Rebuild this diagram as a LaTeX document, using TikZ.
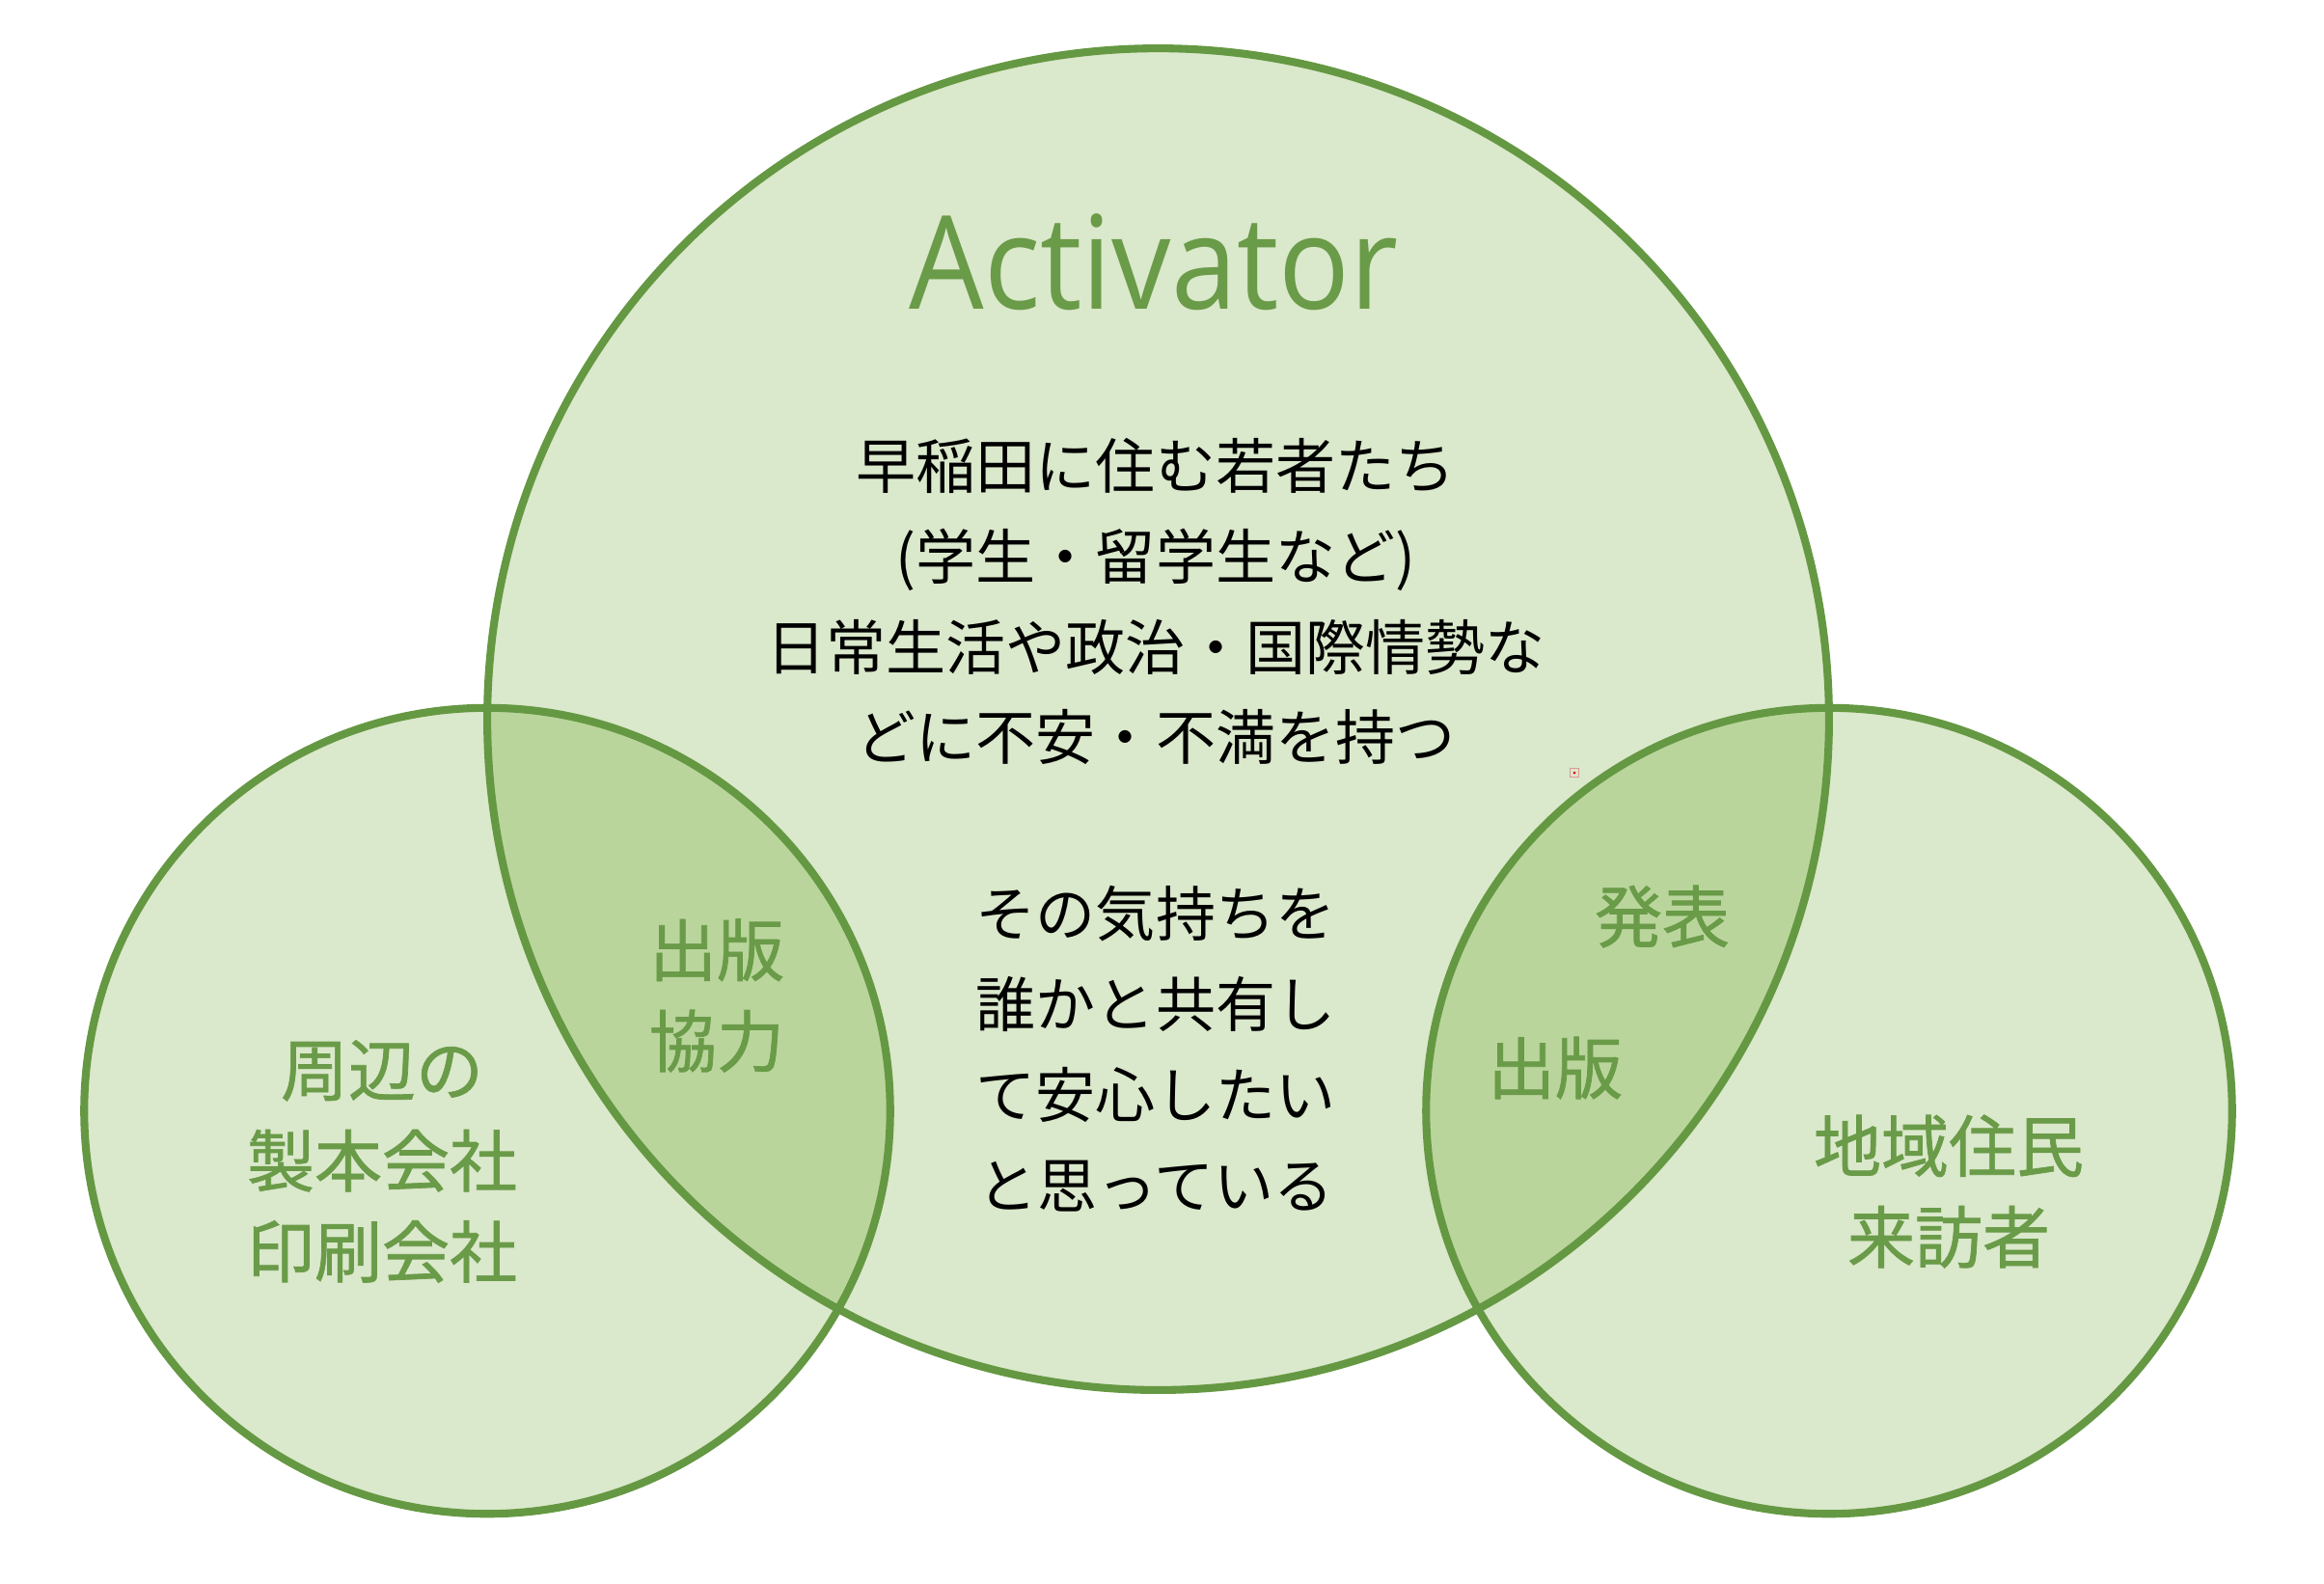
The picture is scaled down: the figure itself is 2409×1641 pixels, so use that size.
\documentclass[tikz,border=0pt]{standalone}
\usepackage{fontspec}
\setmainfont{Open Sans}
\newfontfamily\jp{Noto Sans CJK JP}
\newfontfamily\jpg[FakeBold=1.0]{Noto Sans CJK JP}
\definecolor{lightfill}{HTML}{DAE8CB}
\definecolor{lensfill}{HTML}{B9D59C}
\definecolor{ringcol}{HTML}{659842}
\definecolor{greentext}{HTML}{6A9B48}
\tikzset{
  ring/.style={draw=ringcol, line width=2.3pt},
  title/.style={inner sep=0pt, anchor=base, text=greentext, font=\fontsize{38.3pt}{40pt}\selectfont},
  blk/.style={inner sep=0pt, align=center, text=black, font=\jp\fontsize{17.64pt}{26.7pt}\selectfont},
  grn/.style={inner sep=0pt, align=center, text=greentext, font=\jpg\fontsize{19.9pt}{26.8pt}\selectfont},
}
\begin{document}
\begin{tikzpicture}[x=0.01cm, y=-0.01cm]
\useasboundingbox (0,0) rectangle (2409,1641);
\fill[white] (0,0) rectangle (2409,1641);
% fills
\fill[lightfill] (1200.5,745.5) circle[radius=6.95cm];
\fill[lightfill] (505,1151.5) circle[radius=4.175cm];
\fill[lightfill] (1896,1151.5) circle[radius=4.175cm];
\begin{scope}
  \clip (1200.5,745.5) circle[radius=6.95cm];
  \fill[lensfill] (505,1151.5) circle[radius=4.175cm];
  \fill[lensfill] (1896,1151.5) circle[radius=4.175cm];
\end{scope}
% outlines
\draw[ring] (1200.5,745.5) circle[radius=6.95cm];
\draw[ring] (505,1151.5) circle[radius=4.175cm];
\draw[ring] (1896,1151.5) circle[radius=4.175cm];
% small marker
\node[draw={rgb,255:red,224;green,150;blue,150}, line width=0.4pt, minimum size=0.09cm, inner sep=0pt] (mark) at (1632,801) {};
\fill[red!80!black] (mark.center) circle[radius=0.015cm];
% texts
\node[title] (act) at (1196,320) {\scalebox{0.91}[1]{Activator}};
\node[blk] (who) at (1198,623.5) {早稲田に住む若者たち\\(学生・留学生など)\\日常生活や政治・国際情勢な\\どに不安・不満を持つ};
\node[blk] (want) at (1198,1087.5) {その気持ちを\\誰かと共有し\\て安心したい\\と思っている};
\node[grn] (makers) at (396,1204) {周辺の\\製本会社\\印刷会社};
\node[grn] (coop) at (743,1032) {出版\\協力};
\node[grn] (present) at (1723,950) {発表};
\node[grn] (publish) at (1612,1107) {出版};
\node[grn] (locals) at (2020,1235) {地域住民\\来訪者};
\end{tikzpicture}
\end{document}
